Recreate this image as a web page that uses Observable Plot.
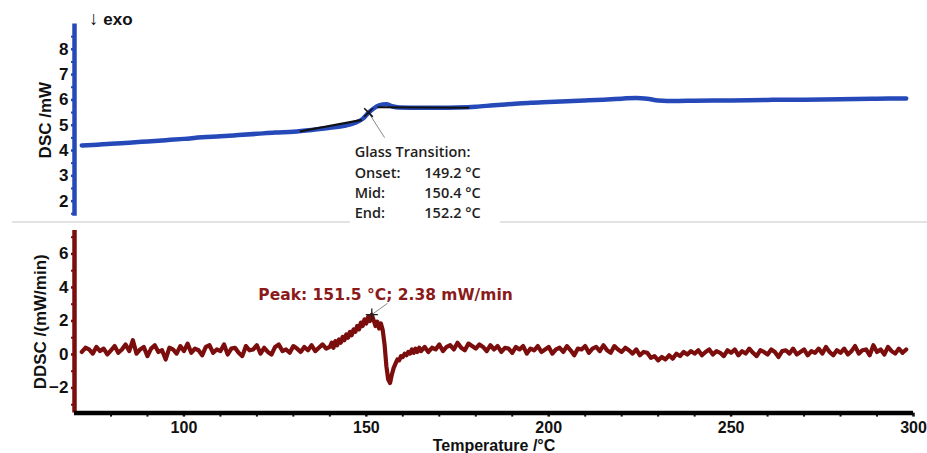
<!DOCTYPE html>
<html><head><meta charset="utf-8">
<script src="https://cdn.jsdelivr.net/npm/d3@7"></script>
<script src="https://cdn.jsdelivr.net/npm/@observablehq/plot@0.6"></script>
<style>
body{margin:0;background:#fff}
#wrap{position:relative;width:927px;height:453px;overflow:hidden;font-family:"Liberation Sans",Arial,sans-serif}
#topPanel,#bottomPanel{position:absolute;left:0}
#topPanel{top:0;z-index:2} #bottomPanel{top:220px;z-index:1}
.sep{position:absolute;top:221px;height:1.5px;background:#e3e3e3}
#exo{position:absolute;left:89px;top:8px;font-size:17px;font-weight:bold;color:#111;line-height:22px;z-index:3}
#exo span{font-weight:normal;font-size:19px}
</style></head>
<body><div id="wrap">
<div class="sep" style="left:12px;width:338px"></div>
<div class="sep" style="left:500px;width:427px"></div>
<div id="topPanel"></div><div id="bottomPanel"></div>
<div id="exo"><span>↓</span> exo</div>
</div>
<script>
// ---- DSC (top panel) ----
const dscTemp = [72,75,80,85,90,95,100,105,110,115,120,125,130,135,140,144,147,149,150.5,152,153.5,155.5,157,159,165,170,175,180,185,190,195,200,205,210,215,220,224,227,230,235,240,250,260,270,280,290,298];
const dscValue = [4.20,4.22,4.27,4.31,4.36,4.41,4.46,4.52,4.56,4.61,4.66,4.71,4.74,4.81,4.90,4.98,5.10,5.25,5.48,5.66,5.78,5.83,5.75,5.70,5.69,5.69,5.70,5.73,5.79,5.84,5.89,5.92,5.95,5.98,6.01,6.05,6.08,6.05,5.98,5.96,5.97,5.98,6.00,6.01,6.03,6.05,6.06];
const tangentBeforeTemp = [132,148.5];
const tangentBeforeValue = [4.76,5.20];
const tangentAfterTemp = [153.3,178];
const tangentAfterValue = [5.71,5.69];
const glassMarkTemp = 150.6, glassMarkValue = 5.5;
const glassLabels = ["Glass Transition:","Onset:","Mid:","End:"];
const glassValues = ["","149.2 °C","150.4 °C","152.2 °C"];
const dscTicks = [2,3,4,5,6,7,8];

// ---- DDSC (bottom panel) ----
const ddscTempA = d3.range(72,140,1);
const ddscValueA = [0.15,0.4,0.3,0.05,0.45,0.2,0.35,0.0,0.25,0.5,
 0.1,0.3,0.6,0.2,0.85,0.05,0.3,0.45,-0.1,0.35,
 0.55,0.15,0.25,-0.3,0.4,0.3,0.05,0.5,0.2,0.65,
 0.1,0.35,0.25,-0.05,0.45,0.55,0.1,0.3,0.2,0.6,
 0.0,0.35,0.4,0.1,-0.1,0.5,0.25,0.3,0.55,0.05,
 0.4,0.15,0.0,0.45,0.6,0.2,0.3,0.1,0.5,0.35,
 0.15,0.45,0.25,0.55,0.2,0.4,0.6,0.35];
const ddscTempB = d3.range(140,165.5,0.5);
const ddscValueB = [0.45,0.7,0.4,0.8,0.55,0.9,0.7,1.05,0.85,1.2,
 1.0,1.35,1.15,1.5,1.35,1.7,1.5,1.9,1.7,2.1,
 1.85,2.25,2.0,2.38,2.05,1.7,1.95,1.55,1.85,1.45,
 0.6,-0.7,-1.5,-1.7,-1.2,-0.8,-0.55,-0.3,-0.35,-0.1,
 -0.15,0.05,-0.05,0.15,0.05,0.3,0.1,0.35,0.15,0.4,
 0.2];
const ddscTempC = d3.range(166,299,1);
const ddscValueC = [0.45,0.15,0.4,0.3,
 0.6,0.2,0.45,0.55,0.3,0.7,0.4,0.25,0.65,0.5,
 0.35,0.6,0.45,0.2,0.55,0.3,0.5,0.15,0.4,0.35,
 0.1,0.45,0.3,0.5,0.05,0.35,0.25,0.5,0.15,0.3,
 0.45,0.05,0.3,0.4,0.15,0.5,0.25,-0.05,0.35,0.3,
 0.5,0.1,0.35,0.45,0.2,0.55,0.25,0.1,0.5,0.3,
 0.15,0.4,0.25,0.05,0.3,-0.05,0.15,0.1,-0.2,-0.1,
 -0.35,-0.15,-0.3,-0.05,-0.25,0.05,-0.1,0.15,0.0,0.2,
 0.05,0.25,-0.05,0.15,0.3,0.0,0.2,0.1,-0.1,0.25,
 0.1,0.3,-0.05,0.2,0.05,0.35,0.1,-0.1,0.25,0.15,
 0.0,0.3,0.15,-0.15,0.2,0.25,0.05,0.35,0.0,0.15,
 0.3,-0.05,0.2,0.1,0.35,0.05,0.45,0.15,-0.05,0.25,
 0.1,0.35,0.0,0.2,0.5,0.05,0.25,0.3,-0.05,0.55,
 0.15,0.3,0.0,0.45,0.2,0.05,0.35,0.1,0.3];
const peakTemp = 151.5, peakValue = 2.38;
const peakLabel = "Peak: 151.5 °C; 2.38 mW/min";
const ddscTicks = [-2,0,2,4,6];
const ddscMinorTicks = [-3,-1,1,3,5,7];
const tempTicks = [100,150,200,250,300];
const tempMinorTicks = [80,90,110,120,130,140,160,170,180,190,210,220,230,240,260,270,280,290];

const BLUE = "#2549b8", RED = "#7b0d0d", PEAKRED = "#8b1a1a";
const FONT = "Liberation Sans, Arial, sans-serif";
const zip = (t, v) => t.map((x, i) => ({t: x, v: v[i]}));

const dsc = zip(dscTemp, dscValue);
const tan1 = zip(tangentBeforeTemp, tangentBeforeValue);
const tan2 = zip(tangentAfterTemp, tangentAfterValue);
const ddsc = [...zip(ddscTempA, ddscValueA), ...zip(ddscTempB, ddscValueB), ...zip(ddscTempC, ddscValueC)];
const glassRowsV = [3.92, 3.09, 2.30, 1.51];
const glassRows = glassLabels.map((l, i) => ({label: l, value: glassValues[i], v: glassRowsV[i]}));

const xDomain = [70, 300];
const ANNOT = {fontSize: 14.5, fontWeight: 600, fontFamily: "Open Sans, Lato, sans-serif", fill: "#1e1e1e", textAnchor: "start"};

const topChart = Plot.plot({
  width: 927, height: 228,
  marginLeft: 74, marginRight: 14, marginTop: 23.5, marginBottom: 12.2,
  x: {domain: xDomain, axis: null},
  y: {domain: [1.4, 9], axis: null},
  style: {fontFamily: FONT, background: "transparent", overflow: "visible"},
  marks: [
    Plot.axisY({ticks: [1.5,2.5,3.5,4.5,5.5,6.5,7.5,8.5], tickSize: 3, strokeWidth: 2, stroke: BLUE, tickFormat: () => "", label: null}),
    Plot.axisY({ticks: dscTicks, tickSize: 3, tickPadding: 3, strokeWidth: 2.5, stroke: BLUE, fontSize: 17, fontWeight: "bold", fill: "#111", label: null}),
    Plot.ruleX([70], {stroke: BLUE, strokeWidth: 4.5}),
    Plot.text(["DSC /mW"], {frameAnchor: "left", dx: -29, rotate: -90, textAnchor: "middle", fontSize: 17, fontWeight: "bold", fill: "#111"}),
    Plot.line(dsc, {x: "t", y: "v", stroke: BLUE, strokeWidth: 4.5, curve: "monotone-x"}),
    Plot.line(tan1, {x: "t", y: "v", stroke: "#111", strokeWidth: 2.2}),
    Plot.line(tan2, {x: "t", y: "v", stroke: "#111", strokeWidth: 2.2}),
    Plot.link([{x1: glassMarkTemp, y1: glassMarkValue, x2: 155, y2: 4.51}], {x1: "x1", y1: "y1", x2: "x2", y2: "y2", stroke: "#888", strokeWidth: 1}),
    Plot.dot([{t: glassMarkTemp, v: glassMarkValue}], {x: "t", y: "v", symbol: "times", r: 4, stroke: "#111", strokeWidth: 1.5}),
    Plot.text(glassRows, {x: () => 146.8, y: "v", text: "label", ...ANNOT}),
    Plot.text(glassRows, {x: () => 165.9, y: "v", text: "value", ...ANNOT})
  ]
});
document.getElementById("topPanel").append(topChart);

const bottomChart = Plot.plot({
  width: 927, height: 233,
  marginLeft: 74, marginRight: 14, marginTop: 10, marginBottom: 40.4,
  x: {domain: xDomain, axis: null},
  y: {domain: [-3.5, 7.4], axis: null},
  style: {fontFamily: FONT, background: "transparent"},
  marks: [
    Plot.axisY({ticks: ddscMinorTicks, tickSize: 3, strokeWidth: 2, stroke: RED, tickFormat: () => "", label: null}),
    Plot.axisY({ticks: ddscTicks, tickSize: 3, tickPadding: 3, strokeWidth: 2.5, stroke: RED, fontSize: 17, fontWeight: "bold", fill: "#111", label: null}),
    Plot.axisX({ticks: tempMinorTicks, tickSize: 4, strokeWidth: 2, stroke: "#111", tickFormat: () => "", label: null}),
    Plot.axisX({ticks: tempTicks, tickSize: 4, tickPadding: 4.4, strokeWidth: 2.5, stroke: "#111", fontSize: 16, fontWeight: "bold", fill: "#111", label: null}),
    Plot.ruleX([70], {stroke: RED, strokeWidth: 4.5}),
    Plot.ruleY([-3.5], {stroke: "#000", strokeWidth: 4.5}),
    Plot.text(["DDSC /(mW/min)"], {frameAnchor: "left", dx: -34, rotate: -90, textAnchor: "middle", fontSize: 17, fontWeight: "bold", fill: "#111"}),
    Plot.text(["Temperature /°C"], {frameAnchor: "bottom", dy: 38, lineAnchor: "bottom", fontSize: 16, fontWeight: "bold", fill: "#111"}),
    Plot.line(ddsc, {x: "t", y: "v", stroke: RED, strokeWidth: 4.2, strokeLinejoin: "round"}),
    Plot.link([{x1: peakTemp, y1: peakValue, x2: 155.8, y2: 3.05}], {x1: "x1", y1: "y1", x2: "x2", y2: "y2", stroke: "#888", strokeWidth: 1}),
    Plot.dot([{t: peakTemp, v: peakValue}], {x: "t", y: "v", symbol: "plus", r: 4, stroke: "#222", strokeWidth: 1.3}),
    Plot.text([peakLabel], {x: () => 120.4, y: () => 3.52, textAnchor: "start", fontSize: 15.5, fontWeight: "bold", fontFamily: "DejaVu Sans, Liberation Sans, sans-serif", fill: PEAKRED})
  ]
});
document.getElementById("bottomPanel").append(bottomChart);
</script>
</body></html>
